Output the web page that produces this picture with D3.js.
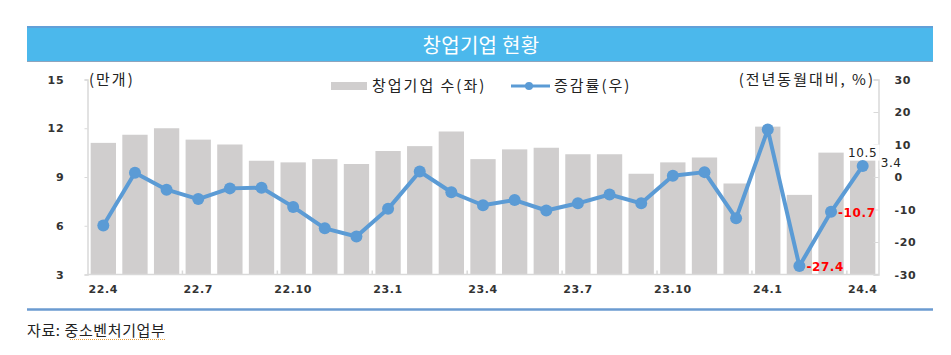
<!DOCTYPE html>
<html><head><meta charset="utf-8">
<script src="https://cdn.jsdelivr.net/npm/d3@7"></script>
<style>body{margin:0;background:#fff}svg{display:block}</style>
</head><body>
<script>
const categories = ["22.4","22.5","22.6","22.7","22.8","22.9","22.10","22.11","22.12","23.1","23.2","23.3","23.4","23.5","23.6","23.7","23.8","23.9","23.10","23.11","23.12","24.1","24.2","24.3","24.4"];
const startups = [11.1,11.6,12.0,11.3,11.0,10.0,9.9,10.1,9.8,10.6,10.9,11.8,10.1,10.7,10.8,10.4,10.4,9.2,9.9,10.2,8.6,12.1,7.9,10.5,10.5];
const changeRate = [-14.9,1.3,-3.9,-6.8,-3.5,-3.3,-9.2,-15.8,-18.3,-9.8,1.7,-4.7,-8.7,-7.1,-10.3,-8.1,-5.4,-8.1,0.4,1.5,-12.7,14.6,-27.4,-10.7,3.4];
const xTickLabels = ["22.4","22.7","22.10","23.1","23.4","23.7","23.10","24.1","24.4"];
const leftTicks = [3,6,9,12,15];
const rightTicks = [-30,-20,-10,0,10,20,30];
const title = "창업기업 현황";
const legendLabels = ["창업기업 수(좌)","증감률(우)"];
const leftUnit = "(만개)";
const rightUnit = "(전년동월대비, %)";
const source = "자료: 중소벤처기업부";

const W = 951, H = 355;
const svg = d3.select("body").append("svg").attr("width", W).attr("height", H);
const numFont = "'DejaVu Sans', Verdana, sans-serif";
const krFont = "'Noto Sans CJK KR', 'Noto Sans', sans-serif";
const hy = s => String(s).replace(/\u2212/g, "-");
const f1 = v => hy(d3.format(".1f")(v));
const fd = v => hy(d3.format("d")(v));

// title bar
svg.append("rect").attr("x",27).attr("y",26).attr("width",906).attr("height",36).attr("fill","#4bb8ec");
svg.append("line").attr("x1",27).attr("x2",933).attr("y1",27).attr("y2",27).attr("stroke","#62a0d8").attr("stroke-width",2);
svg.append("line").attr("x1",27).attr("x2",933).attr("y1",61.5).attr("y2",61.5).attr("stroke","#8ea4bd").attr("stroke-width",1);
svg.append("text").attr("x",481).attr("y",44).attr("text-anchor","middle").attr("dominant-baseline","central")
  .attr("fill","#fff").attr("font-family",krFont).attr("font-size",20).attr("letter-spacing",0.3).text(title);

const x = d3.scaleBand().domain(categories).range([87.5, 878.5]).paddingInner(0.2).paddingOuter(0.1);
const yL = d3.scaleLinear().domain([3,15]).range([274.5,79.5]);
const yR = d3.scaleLinear().domain([-30,30]).range([274.5,79.5]);
const axisCol = "#d9d9d9";

// bars
svg.append("g").selectAll("rect").data(startups).join("rect")
  .attr("x",(d,i)=>x(categories[i])).attr("width",x.bandwidth())
  .attr("y",d=>yL(d)).attr("height",d=>yL(3)-yL(d)).attr("fill","#d0cece");

// left axis
const gl = svg.append("g").attr("transform","translate(87.5,0)")
  .call(d3.axisLeft(yL).tickValues(leftTicks).tickSize(3).tickPadding(20).tickFormat(fd));
gl.select(".domain").attr("stroke",axisCol).attr("stroke-width",1.5);
gl.selectAll(".tick line").attr("stroke",axisCol);
gl.selectAll(".tick text").attr("font-family",numFont).attr("font-weight","bold").attr("font-size",11).attr("fill","#333").attr("letter-spacing",0.8);

// right axis
const gr = svg.append("g").attr("transform","translate(878.5,0)")
  .call(d3.axisRight(yR).tickValues(rightTicks).tickSize(-5).tickPadding(16).tickFormat(fd));
gr.select(".domain").attr("stroke",axisCol).attr("stroke-width",1.5);
gr.selectAll(".tick line").attr("stroke",axisCol);
gr.selectAll(".tick text").attr("font-family",numFont).attr("font-weight","bold").attr("font-size",11).attr("fill","#333").attr("letter-spacing",0.6);

// bottom axis
svg.append("line").attr("x1",87.5).attr("x2",878.5).attr("y1",274.5).attr("y2",274.5).attr("stroke",axisCol).attr("stroke-width",1.5);
const step = x.step();
svg.append("g").selectAll("line").data(categories.filter((c,i)=>i>0 && i%3===0)).join("line")
  .attr("x1",d=>x(d)-step*x.paddingInner()/2).attr("x2",d=>x(d)-step*x.paddingInner()/2)
  .attr("y1",270.5).attr("y2",274.5).attr("stroke",axisCol).attr("stroke-width",1.5);
svg.append("g").selectAll("text").data(xTickLabels).join("text")
  .attr("x",d=>x(d)+x.bandwidth()/2).attr("y",293).attr("text-anchor","middle")
  .attr("font-family",numFont).attr("font-weight","bold").attr("font-size",11).attr("fill","#333").attr("letter-spacing",0.6)
  .text(d=>d);

// line series
const lineColor = "#5b9bd5";
const cx = i => x(categories[i]) + x.bandwidth()/2;
svg.append("path").datum(changeRate)
  .attr("d", d3.line().x((d,i)=>cx(i)).y(d=>yR(d)))
  .attr("fill","none").attr("stroke",lineColor).attr("stroke-width",4).attr("stroke-linejoin","round");

// annotation backgrounds
const lastI = categories.length-1;
svg.append("rect").attr("x",cx(lastI)-17).attr("y",yL(startups[lastI])-8).attr("width",34).attr("height",16).attr("fill","#fff");
svg.append("rect").attr("x",cx(lastI)+17).attr("y",yR(changeRate[lastI])-12).attr("width",26).attr("height",15).attr("fill","#fff");

svg.append("g").selectAll("circle").data(changeRate).join("circle")
  .attr("cx",(d,i)=>cx(i)).attr("cy",d=>yR(d)).attr("r",6).attr("fill",lineColor);

const annStyle = s => s.attr("font-family",numFont).attr("font-size",12).attr("letter-spacing",0.6);
annStyle(svg.append("text").attr("x",cx(lastI)).attr("y",yL(startups[lastI])+4).attr("text-anchor","middle").attr("fill","#222"))
  .text(f1(startups[lastI]));
annStyle(svg.append("text").attr("x",cx(lastI)+18).attr("y",yR(changeRate[lastI])+1.5).attr("fill","#222").attr("font-size",11.5))
  .text(f1(changeRate[lastI]));
annStyle(svg.append("text").attr("x",cx(lastI-1)+7).attr("y",yR(changeRate[lastI-1])+5).attr("fill","#ff0000").attr("font-weight","bold"))
  .text(f1(changeRate[lastI-1]));
annStyle(svg.append("text").attr("x",cx(lastI-2)+7).attr("y",yR(changeRate[lastI-2])+5).attr("fill","#ff0000").attr("font-weight","bold"))
  .text(f1(changeRate[lastI-2]));

// unit labels
svg.append("text").attr("x",89).attr("y",85).attr("font-family",krFont).attr("font-size",15).attr("letter-spacing",2).attr("fill","#222").text(leftUnit);
svg.append("text").attr("x",875).attr("y",85).attr("text-anchor","end").attr("font-family",krFont).attr("font-size",15).attr("letter-spacing",2).attr("fill","#222").text(rightUnit);

// legend
svg.append("rect").attr("x",331).attr("y",82).attr("width",36).attr("height",8).attr("fill","#d0cece");
svg.append("text").attr("x",372).attr("y",91).attr("font-family",krFont).attr("font-size",15).attr("letter-spacing",2).attr("fill","#222").text(legendLabels[0]);
svg.append("line").attr("x1",511).attr("x2",550).attr("y1",86).attr("y2",86).attr("stroke",lineColor).attr("stroke-width",3);
svg.append("circle").attr("cx",529).attr("cy",86).attr("r",4).attr("fill",lineColor);
svg.append("text").attr("x",554).attr("y",91).attr("font-family",krFont).attr("font-size",15).attr("letter-spacing",2).attr("fill","#222").text(legendLabels[1]);

// separator & source
svg.append("line").attr("x1",27).attr("x2",933).attr("y1",309.5).attr("y2",309.5).attr("stroke","#6b9bd1").attr("stroke-width",2.5);
svg.append("text").attr("x",27).attr("y",336).attr("font-family",krFont).attr("font-size",15).attr("letter-spacing",0.6).attr("fill","#222").text(source);
svg.append("line").attr("x1",70).attr("x2",166).attr("y1",339.5).attr("y2",339.5).attr("stroke","#e8a040").attr("stroke-width",1).attr("stroke-dasharray","1,1");
</script>
</body></html>
